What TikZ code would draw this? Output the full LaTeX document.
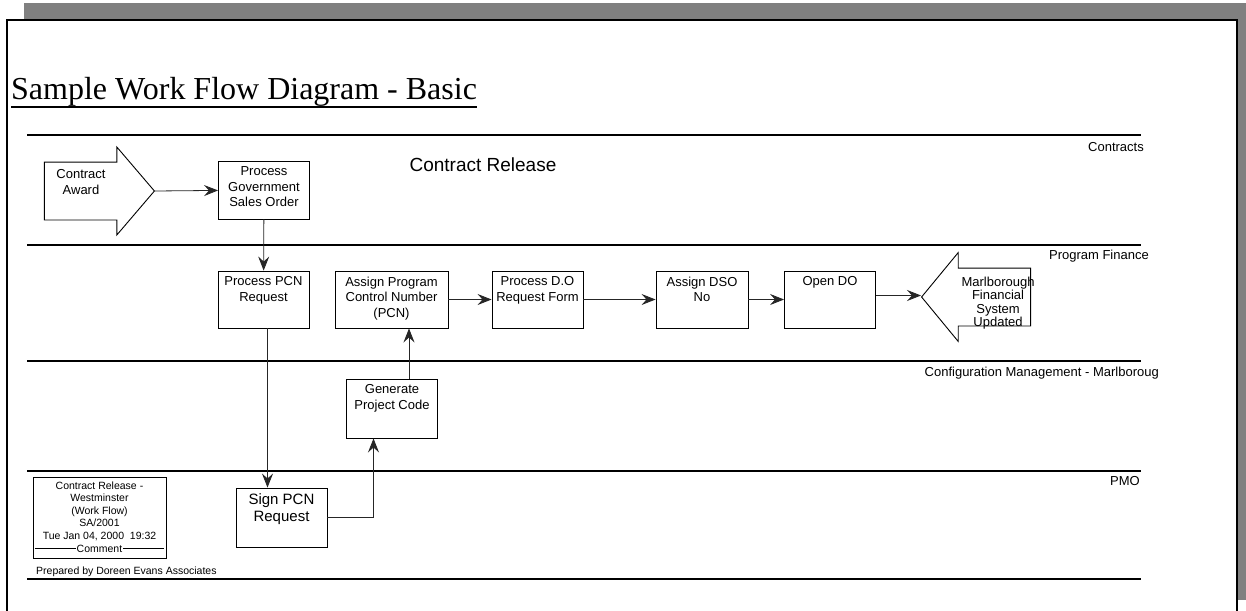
\documentclass[tikz,border=0pt]{standalone}
\usepackage{fontspec}
\setmainfont{Liberation Sans}
\newfontfamily\titlefont{Liberation Serif}
\usepackage{tikz}
\usetikzlibrary{arrows.meta,positioning,shapes.arrows}
\definecolor{WShadow}{HTML}{808080}

\begin{document}
\begin{tikzpicture}[
  x=1pt, y=-1pt,
  every node/.style={font=\fontsize{13}{15.5}\selectfont},
  task/.style={draw,line width=0.9pt,minimum width=91pt,minimum height=57pt,inner sep=0pt},
  tasktext/.style={anchor=north,align=center,inner sep=2pt,yshift=-4pt},
  bigtext/.style={tasktext,font=\fontsize{15}{17}\selectfont},
  blocktext/.style={align=center,inner sep=0pt},
  blockarrow/.style={single arrow,draw,line width=0.9pt,inner xsep=0pt,inner ysep=28.5pt,
    single arrow head indent=0pt},
  lane/.style={line width=1.2pt},
  lanelabel/.style={anchor=east,inner sep=0pt},
  small/.style={font=\fontsize{10.5}{12.5}\selectfont},
  arr/.style={-{Stealth[length=14pt,width=11pt,inset=5pt]},line width=0.8pt,color=black!85}
]
  \useasboundingbox (0,0) rectangle (1246,610);
  \clip (0,0) rectangle (1246,610);
  % sheet and shadow
  \fill[WShadow] (24,3) rectangle (1246,600);
  \draw[line width=2pt,fill=white] (7,20) rectangle (1237,640);

  \node[anchor=base west,inner sep=0pt,font=\titlefont\fontsize{32}{38}\selectfont] (title) at (11,99)
    {Sample Work Flow Diagram - Basic};
  \draw[line width=1.8pt] ([yshift=-8pt]title.base west) -- ([yshift=-8pt]title.base east);

  % swim lanes
  \foreach \y in {135,245,361,471,579}
    {\draw[lane] (27,\y) -- (1141,\y);}
  \foreach \x/\y/\t in {1144/147/Contracts,1149/256/Program Finance,
      1159/373/Configuration Management - Marlboroug,1140/481/PMO}
    {\node[lanelabel] (lane\y) at (\x,\y) {\t};}

  \node[font=\fontsize{19}{23}\selectfont] (release) at (483,165) {Contract Release};

  % steps
  \node[blockarrow,anchor=tip,minimum height=110pt,
    single arrow head extend=15pt,single arrow tip angle=99] (award) at (155,191) {};
  \node[blocktext,font=\fontsize{13}{16}\selectfont] (awardtxt) at ([xshift=-74pt,yshift=9pt]award.tip) {Contract\\Award};
  \node[task,minimum height=58pt,label={[tasktext]north:Process\\Government\\Sales Order}] (pgso) at (264,190) {};
  \node[task,label={[tasktext]north:Process PCN\\Request}] (ppr) at (263.5,299.5) {};
  \node[task,minimum width=113pt,label={[tasktext]north:Assign Program\\Control Number\\(PCN)}] (apcn) at (391.5,299.5) {};
  \node[task,label={[tasktext]north:Process D.O\\Request Form}] (pdo) at (537.5,299.5) {};
  \node[task,minimum width=92pt,label={[tasktext]north:Assign DSO\\No}] (adso) at (702,299.5) {};
  \node[task,label={[tasktext]north:Open DO}] (opendo) at (830,299.5) {};
  \node[blockarrow,anchor=tip,shape border rotate=180,minimum height=109pt,
    single arrow head extend=15.5pt,single arrow tip angle=101] (marl) at (921,297) {};
  \node[blocktext,font=\fontsize{13}{13.5}\selectfont] (marltxt) at ([xshift=77pt,yshift=-6pt]marl.tip)
    {Marlborough\\Financial\\System\\Updated};
  \node[task,minimum height=59pt,label={[tasktext]north:Generate\\Project Code}] (gpc) at (392,408.5) {};
  \node[task,minimum height=59pt,label={[bigtext]north:Sign PCN\\Request}] (sign) at (281.5,517.5) {};

  % flow
  \foreach \a/\b in {award.tip/pgso,pgso/ppr,apcn/pdo,pdo/adso,adso/opendo}
    {\draw[arr] (\a) -- (\b);}
  \draw[arr] ([yshift=4pt]opendo.east) -- ([yshift=4pt]opendo.east -| marl.tip);
  \draw[arr] ([xshift=4pt]ppr.south) -- ([xshift=4pt]ppr.south |- sign.north);
  \draw[arr] (sign.east) -| ([xshift=-18.5pt]gpc.south);
  \draw[arr] ([xshift=17pt]gpc.north) -- ([xshift=17pt]gpc.north |- apcn.south);

  % title block
  \node[draw,line width=0.9pt,minimum width=133pt,minimum height=81pt,inner sep=0pt,
    label={[tasktext,small,yshift=1pt]north:Contract Release -\\Westminster\\(Work Flow)\\SA/2001\\Tue Jan 04, 2000\ \ 19:32}]
    (tblock) at (99.5,517.5) {};
  \draw ([xshift=2pt,yshift=10pt]tblock.south west) -- ([xshift=-2pt,yshift=10pt]tblock.south east);
  \node[small,fill=white,inner xsep=1pt,inner ysep=0pt] (comment) at ([yshift=10pt]tblock.south) {Comment};
  \node[small,anchor=west,inner sep=0pt] (prepared) at (36,572) {Prepared by Doreen Evans Associates};
\end{tikzpicture}
\end{document}
